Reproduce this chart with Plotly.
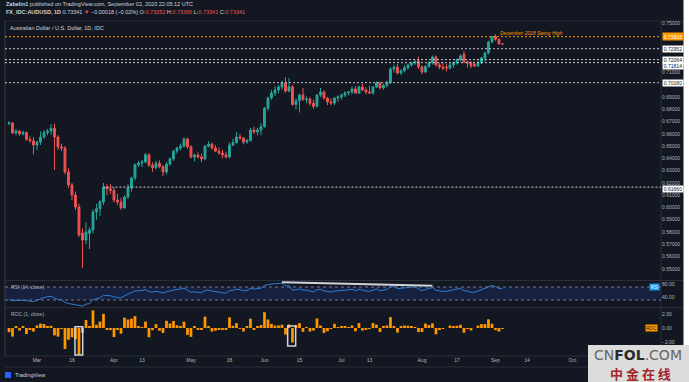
import numpy as np
import pandas as pd
import plotly.graph_objects as go

# ---------------- data ----------------
dates = pd.bdate_range("2020-02-19", "2020-09-03")          # daily FX bars (weekdays)

open_ = [
    0.6683, 0.6690, 0.6608,
    0.6624, 0.6600, 0.6612, 0.6555, 0.6543,
    0.6510, 0.6534, 0.6575, 0.6612, 0.6624,
    0.6645, 0.6575, 0.6494, 0.6485, 0.6290,
    0.6184, 0.6102, 0.6004, 0.5792, 0.5735,
    0.5790, 0.5816, 0.5963, 0.5990, 0.6045,
    0.6167, 0.6151, 0.6140, 0.6061, 0.6045,
    0.5996, 0.6085, 0.6159, 0.6241, 0.6347,
    0.6363, 0.6371, 0.6430, 0.6345, 0.6325,
    0.6360, 0.6335, 0.6290, 0.6355, 0.6396,
    0.6460, 0.6485, 0.6500, 0.6559, 0.6494,
    0.6412, 0.6428, 0.6412, 0.6396, 0.6500,
    0.6518, 0.6485, 0.6460, 0.6445, 0.6430,
    0.6412, 0.6510, 0.6530, 0.6575, 0.6567,
    0.6534, 0.6545, 0.6632, 0.6616, 0.6632,
    0.6660, 0.6810, 0.6893, 0.6934, 0.6958,
    0.6983, 0.7016, 0.6950, 0.6985, 0.6840,
    0.6870, 0.6918, 0.6880, 0.6885, 0.6850,
    0.6825, 0.6918, 0.6942, 0.6893, 0.6861,
    0.6852, 0.6893, 0.6901, 0.6918, 0.6934,
    0.6942, 0.6967, 0.6934, 0.6983, 0.6958,
    0.6942, 0.6934, 0.6983, 0.7016, 0.6975,
    0.6995, 0.7020, 0.7130, 0.7145, 0.7098,
    0.7115, 0.7140, 0.7163, 0.7180, 0.7195,
    0.7146, 0.7105, 0.7150, 0.7180, 0.7228,
    0.7163, 0.7146, 0.7145, 0.7138, 0.7163,
    0.7180, 0.7203, 0.7250, 0.7187, 0.7180,
    0.7165, 0.7155, 0.7180, 0.7220, 0.7260,
    0.7350, 0.7395, 0.7372, 0.73352,
]
high = [
    0.6705, 0.6695, 0.6640,
    0.6630, 0.6628, 0.6620, 0.6580, 0.6575,
    0.6545, 0.6620, 0.6630, 0.6640, 0.6680,
    0.6685, 0.6590, 0.6520, 0.6500, 0.6320,
    0.6200, 0.6130, 0.6030, 0.5830, 0.5880,
    0.5840, 0.5985, 0.6030, 0.6060, 0.6200,
    0.6190, 0.6190, 0.6165, 0.6110, 0.6080,
    0.6100, 0.6190, 0.6250, 0.6360, 0.6380,
    0.6390, 0.6445, 0.6440, 0.6370, 0.6380,
    0.6385, 0.6345, 0.6370, 0.6410, 0.6470,
    0.6495, 0.6520, 0.6570, 0.6570, 0.6510,
    0.6440, 0.6450, 0.6440, 0.6510, 0.6540,
    0.6530, 0.6510, 0.6490, 0.6470, 0.6455,
    0.6530, 0.6560, 0.6615, 0.6600, 0.6575,
    0.6560, 0.6650, 0.6660, 0.6650, 0.6690,
    0.6820, 0.6905, 0.6960, 0.6990, 0.7000,
    0.7035, 0.7064, 0.7055, 0.7000, 0.6890,
    0.6930, 0.6975, 0.6905, 0.6900, 0.6880,
    0.6925, 0.6975, 0.6955, 0.6900, 0.6890,
    0.6900, 0.6915, 0.6930, 0.6950, 0.6950,
    0.6985, 0.6990, 0.6995, 0.7010, 0.6980,
    0.6995, 0.6990, 0.7030, 0.7025, 0.7010,
    0.7035, 0.7145, 0.7165, 0.7170, 0.7130,
    0.7160, 0.7175, 0.7190, 0.7205, 0.7230,
    0.7160, 0.7160, 0.7195, 0.7240, 0.7240,
    0.7180, 0.7185, 0.7170, 0.7185, 0.7190,
    0.7215, 0.7250, 0.7275, 0.7200, 0.7195,
    0.7190, 0.7200, 0.7230, 0.7270, 0.7360,
    0.7400, 0.7413, 0.7380, 0.73366,
]
low = [
    0.6672, 0.6600, 0.6590,
    0.6585, 0.6588, 0.6545, 0.6530, 0.6433,
    0.6470, 0.6510, 0.6560, 0.6590, 0.6595,
    0.6306, 0.6470, 0.6460, 0.6270, 0.6160,
    0.6060, 0.5980, 0.5760, 0.5506, 0.5700,
    0.5660, 0.5790, 0.5900, 0.5930, 0.6020,
    0.6100, 0.6110, 0.6040, 0.6020, 0.5980,
    0.5990, 0.6070, 0.6130, 0.6220, 0.6330,
    0.6330, 0.6360, 0.6330, 0.6290, 0.6310,
    0.6320, 0.6255, 0.6270, 0.6340, 0.6380,
    0.6440, 0.6465, 0.6490, 0.6480, 0.6400,
    0.6375, 0.6400, 0.6370, 0.6385, 0.6490,
    0.6470, 0.6450, 0.6430, 0.6400, 0.6400,
    0.6400, 0.6500, 0.6520, 0.6550, 0.6515,
    0.6520, 0.6540, 0.6600, 0.6590, 0.6590,
    0.6650, 0.6790, 0.6880, 0.6910, 0.6930,
    0.6960, 0.6935, 0.6940, 0.6830, 0.6800,
    0.6775, 0.6870, 0.6850, 0.6830, 0.6805,
    0.6815, 0.6900, 0.6880, 0.6835, 0.6835,
    0.6835, 0.6860, 0.6880, 0.6900, 0.6915,
    0.6925, 0.6925, 0.6925, 0.6950, 0.6925,
    0.6925, 0.6920, 0.6975, 0.6965, 0.6960,
    0.6980, 0.7010, 0.7100, 0.7085, 0.7080,
    0.7100, 0.7125, 0.7150, 0.7165, 0.7130,
    0.7085, 0.7095, 0.7140, 0.7165, 0.7150,
    0.7130, 0.7120, 0.7110, 0.7125, 0.7140,
    0.7165, 0.7190, 0.7180, 0.7140, 0.7135,
    0.7145, 0.7145, 0.7170, 0.7190, 0.7250,
    0.7340, 0.7360, 0.7327, 0.73341,
]
close = [
    0.6690, 0.6608, 0.6624,
    0.6600, 0.6612, 0.6555, 0.6543, 0.6510,
    0.6534, 0.6575, 0.6612, 0.6624, 0.6645,
    0.6575, 0.6494, 0.6485, 0.6290, 0.6184,
    0.6102, 0.6004, 0.5775, 0.5735, 0.5800,
    0.5816, 0.5963, 0.5990, 0.6045, 0.6167,
    0.6151, 0.6140, 0.6061, 0.6045, 0.5996,
    0.6085, 0.6159, 0.6241, 0.6347, 0.6363,
    0.6371, 0.6430, 0.6345, 0.6325, 0.6360,
    0.6335, 0.6290, 0.6355, 0.6396, 0.6460,
    0.6485, 0.6500, 0.6559, 0.6494, 0.6412,
    0.6428, 0.6412, 0.6396, 0.6500, 0.6518,
    0.6485, 0.6460, 0.6445, 0.6430, 0.6412,
    0.6510, 0.6530, 0.6575, 0.6567, 0.6534,
    0.6545, 0.6632, 0.6616, 0.6632, 0.6660,
    0.6810, 0.6893, 0.6934, 0.6958, 0.6983,
    0.7016, 0.6950, 0.6985, 0.6840, 0.6870,
    0.6918, 0.6880, 0.6885, 0.6850, 0.6825,
    0.6918, 0.6942, 0.6893, 0.6861, 0.6852,
    0.6893, 0.6901, 0.6918, 0.6934, 0.6942,
    0.6967, 0.6934, 0.6983, 0.6958, 0.6942,
    0.6934, 0.6983, 0.7016, 0.6975, 0.6995,
    0.7020, 0.7130, 0.7145, 0.7098, 0.7115,
    0.7140, 0.7163, 0.7180, 0.7188, 0.7146,
    0.7105, 0.7150, 0.7180, 0.7228, 0.7163,
    0.7146, 0.7138, 0.7138, 0.7163, 0.7180,
    0.7203, 0.7236, 0.7187, 0.7180, 0.7155,
    0.7155, 0.7180, 0.7220, 0.7260, 0.7350,
    0.7395, 0.7372, 0.7335, 0.73341,
]
prev_close = 0.6730            # close of the bar before the first one shown
rsi_seed_gain = 0.0016         # Wilder averages at the left edge (RSI starts near 33)
rsi_seed_loss = 0.0032

swing_high = 0.73933
level_lines = [0.72952, 0.72064, 0.71814, 0.70180]
support_level = 0.61660
support_start = "2020-03-27 12:00"

price_ticks = [0.75, 0.71, 0.69, 0.68, 0.67, 0.66, 0.65, 0.64, 0.63, 0.62,
               0.61, 0.60, 0.59, 0.58, 0.57, 0.56, 0.55]
x_tick_dates = ["2020-03-02", "2020-03-16", "2020-04-01", "2020-04-13", "2020-05-01",
                "2020-05-18", "2020-06-01", "2020-06-15", "2020-07-01", "2020-07-13",
                "2020-08-03", "2020-08-17", "2020-09-01", "2020-09-14", "2020-10-01"]
x_tick_text = ["Mar", "16", "Apr", "13", "May", "18", "Jun", "15", "Jul", "13",
               "Aug", "17", "Sep", "14", "Oct"]
rsi_ticks = [80, 40]
rsi_bands = [70, 30]
roc_ticks = [2, 0, -2]

rsi_trend_dates = ["2020-06-08 12:00", "2020-08-06 12:00"]
rsi_trend_vals = [84.5, 73.5]
roc_box_x0 = ["2020-03-17 08:40", "2020-06-10 03:00"]
roc_box_x1 = ["2020-03-19 13:30", "2020-06-12 09:50"]
roc_box_top = [0.19, 0.29]
roc_box_bottom = [-3.86, -2.57]

x_range = ["2020-02-18 08:40", "2020-11-05 19:10"]
main_range = [0.54165, 0.75214]
rsi_range = [6.9, 90.0]
roc_range = [-4.0, 2.857]

# ---------------- derived indicator series ----------------
closes = np.array(close)
deltas = np.diff(np.concatenate([[prev_close], closes]))
roc = 100.0 * deltas / np.concatenate([[prev_close], closes[:-1]])
ag, al = rsi_seed_gain, rsi_seed_loss
rsi = []
for d in deltas:
    ag = (ag * 13 + max(d, 0.0)) / 14
    al = (al * 13 + max(-d, 0.0)) / 14
    rsi.append(100 - 100 / (1 + ag / al))

xd = dates + pd.Timedelta(hours=12)
xt = [pd.Timestamp(d) + pd.Timedelta(hours=12) for d in x_tick_dates]

# ---------------- styling ----------------
W, H = 689, 382
BG = "#131722"
UP, DN = "#26a69a", "#ef5350"
TXT = "#b2b5be"
BORDER = "#2a2e39"
FONT = "Liberation Sans, Arial, sans-serif"


def px(x):
    return x / W


def py(y):
    return 1 - y / H


fig = go.Figure()
fig.add_trace(go.Candlestick(
    x=xd, open=open_, high=high, low=low, close=close,
    increasing=dict(line=dict(color=UP, width=1), fillcolor=UP),
    decreasing=dict(line=dict(color=DN, width=1), fillcolor=DN),
    whiskerwidth=0, xaxis="x", yaxis="y", showlegend=False, hoverinfo="skip"))
fig.add_trace(go.Scatter(x=xd, y=rsi, mode="lines", line=dict(color="#2f7fd6", width=1),
                         xaxis="x", yaxis="y2", showlegend=False, hoverinfo="skip"))
fig.add_trace(go.Scatter(x=rsi_trend_dates, y=rsi_trend_vals, mode="lines",
                         line=dict(color="#d1d4dc", width=2),
                         xaxis="x", yaxis="y2", showlegend=False, hoverinfo="skip"))
fig.add_trace(go.Bar(x=xd, y=roc, marker=dict(color="#ff9800", line=dict(width=0)),
                     width=0.78 * 86400000, xaxis="x", yaxis="y3",
                     showlegend=False, hoverinfo="skip"))

shapes = []
# pane borders
for yb in [21, 280.5, 307.5, 356, 367]:
    shapes.append(dict(type="line", xref="paper", yref="paper", x0=px(5), x1=px(683),
                       y0=py(yb), y1=py(yb), line=dict(color=BORDER, width=1), layer="below"))
shapes.append(dict(type="line", xref="paper", yref="paper", x0=px(661), x1=px(661),
                   y0=py(21), y1=py(356), line=dict(color=BORDER, width=1), layer="below"))
shapes.append(dict(type="line", xref="paper", yref="paper", x0=px(5), x1=px(5),
                   y0=py(21), y1=py(356), line=dict(color="#363a45", width=1), layer="below"))
# horizontal levels
shapes.append(dict(type="line", xref="paper", yref="y", x0=px(5), x1=px(661),
                   y0=swing_high, y1=swing_high, line=dict(color="#ff9800", width=1, dash="2px,2px")))
for lv in level_lines:
    shapes.append(dict(type="line", xref="paper", yref="y", x0=px(5), x1=px(661),
                       y0=lv, y1=lv, line=dict(color="#c9cbd1", width=1, dash="2px,2px")))
shapes.append(dict(type="line", xref="x", yref="y", x0=support_start, x1=x_range[1],
                   y0=support_level, y1=support_level,
                   line=dict(color="#c9cbd1", width=1, dash="2px,2px")))
# RSI band
shapes.append(dict(type="rect", xref="paper", yref="y2", x0=px(5), x1=px(661),
                   y0=rsi_bands[1], y1=rsi_bands[0], fillcolor="rgba(41,98,255,0.13)",
                   line=dict(width=0), layer="below"))
for b in rsi_bands:
    shapes.append(dict(type="line", xref="paper", yref="y2", x0=px(5), x1=px(661),
                       y0=b, y1=b, line=dict(color="#787b86", width=1, dash="3px,3px")))
# ROC highlight boxes
for a, b, t, u in zip(roc_box_x0, roc_box_x1, roc_box_top, roc_box_bottom):
    shapes.append(dict(type="rect", xref="x", yref="y3", x0=a, x1=b, y0=u, y1=t,
                       line=dict(color="#d1d4dc", width=1.5), fillcolor="rgba(0,0,0,0)"))
# white page edge on the right
shapes.append(dict(type="rect", xref="paper", yref="paper", x0=px(683.5), x1=1, y0=0, y1=1,
                   fillcolor="#ffffff", line=dict(width=0), layer="above"))
# TradingView logo mark
shapes.append(dict(type="rect", xref="paper", yref="paper", x0=px(5), x1=px(11),
                   y0=py(378), y1=py(372), fillcolor="#2962ff", line=dict(width=0)))
# watermark plate
shapes.append(dict(type="rect", xref="paper", yref="paper", x0=px(588), x1=1,
                   y0=0, y1=py(345), fillcolor="#dcdcdc", line=dict(width=0), layer="above"))

ann = []


def text(x, y, s, size=5.5, color="#d1d4dc", anchor="left", **kw):
    ann.append(dict(xref="paper", yref="paper", x=px(x), y=py(y), text=s, showarrow=False,
                    xanchor=anchor, yanchor="middle",
                    font=dict(family=FONT, size=size, color=color), **kw))


text(4, 4, "<b>Zabelin1</b> published on TradingView.com, September 02, 2020 22:05:12 UTC",
     size=5.5)
red = "#ef5350"
text(4, 12,
     "<b>FX_IDC:AUDUSD, 1D</b> 0.73341 <span style='color:%s'>▼</span> −0.00018 (−0.02%%) "
     "O:<span style='color:%s'>0.73352</span> H:<span style='color:%s'>0.73366</span> "
     "L:<span style='color:%s'>0.73341</span> C:<span style='color:%s'>0.73341</span>"
     % (red, red, red, red, red), size=5.5)
text(8, 28, "Australian Dollar / U.S. Dollar, 1D, IDC", size=5.5)
text(9, 287, "RSI (14, close)", size=5, color=TXT)
text(9, 314, "ROC (1, close)", size=5, color=TXT)
text(13, 375, "TradingView", size=5.5, color="#d1d4dc")

# price-scale value labels
ann.append(dict(xref="paper", yref="y", x=px(662), y=swing_high, text="%.5f" % swing_high,
                showarrow=False, xanchor="left", yanchor="middle", bgcolor="#ff9800",
                width=20, height=7, borderpad=0,
                font=dict(family=FONT, size=5, color="#ffffff")))
shift = {0.71814: -3, 0.61660: -1.5}
for lv in level_lines + [support_level]:
    ann.append(dict(xref="paper", yref="y", x=px(662), y=lv, text="%.5f" % lv,
                    showarrow=False, xanchor="left", yanchor="middle", bgcolor="#ffffff",
                    width=20, height=5.5, borderpad=0, yshift=shift.get(lv, 0),
                    font=dict(family=FONT, size=5, color="#131722")))
ann.append(dict(xref="paper", yref="y", x=px(498), y=swing_high, yshift=4,
                text="<i>December 2018 Swing High</i>", showarrow=False,
                xanchor="left", yanchor="middle",
                font=dict(family=FONT, size=5, color="#ff9800")))
# indicator name tags
ann.append(dict(xref="paper", yref="y2", x=px(660), y=rsi_bands[0], text="RSI",
                showarrow=False, xanchor="right", yanchor="middle", bgcolor="#2196f3",
                width=9, height=6, borderpad=0,
                font=dict(family=FONT, size=4.5, color="#ffffff")))
ann.append(dict(xref="paper", yref="y3", x=px(658), y=0, text="ROC",
                showarrow=False, xanchor="right", yanchor="middle", bgcolor="#ff9800",
                width=11, height=6, borderpad=0,
                font=dict(family=FONT, size=4.5, color="#131722")))
# watermark text
ann.append(dict(xref="paper", yref="paper", x=px(638), y=py(355), showarrow=False,
                xanchor="center", yanchor="middle",
                text="<span style='color:#666666'>CN</span><b>FOL</b>"
                     "<span style='color:#666666'>.COM</span>",
                font=dict(family="DejaVu Sans, sans-serif", size=14, color="#2b2b2b")))
ann.append(dict(xref="paper", yref="paper", x=px(640), y=py(373), showarrow=False,
                xanchor="center", yanchor="middle", text="<b>中 金 在 线</b>",
                font=dict(family="Noto Sans CJK SC", size=13, color="#a3262a")))

axis_font = dict(family=FONT, size=5, color=TXT)
fig.update_layout(
    width=W, height=H, margin=dict(l=0, r=0, t=0, b=0),
    paper_bgcolor=BG, plot_bgcolor=BG, showlegend=False, boxgap=0.25,
    xaxis=dict(domain=[px(5), px(661)], anchor="y3", type="date", range=x_range,
               rangebreaks=[dict(bounds=["sat", "mon"])], rangeslider=dict(visible=False),
               tickvals=xt, ticktext=x_tick_text, tickfont=axis_font, ticks="",
               showgrid=False, zeroline=False, showline=False, fixedrange=True),
    yaxis=dict(domain=[py(279), py(21)], anchor="x", side="right", range=main_range,
               tickvals=price_ticks, tickformat=".5f", tickfont=axis_font, ticks="",
               showgrid=False, zeroline=False, showline=False),
    yaxis2=dict(domain=[py(307.5), py(280.5)], anchor="x", side="right", range=rsi_range,
                tickvals=rsi_ticks, tickformat=".2f", tickfont=axis_font, ticks="",
                showgrid=False, zeroline=False, showline=False),
    yaxis3=dict(domain=[py(356), py(308)], anchor="x", side="right", range=roc_range,
                tickvals=roc_ticks, tickformat=".2f", tickfont=axis_font, ticks="",
                showgrid=False, zeroline=False, showline=False),
    shapes=shapes, annotations=ann,
)

fig.write_html("out.html", config={"displayModeBar": False},
               post_script="document.body.style.margin='0';document.body.style.overflow='hidden';")
